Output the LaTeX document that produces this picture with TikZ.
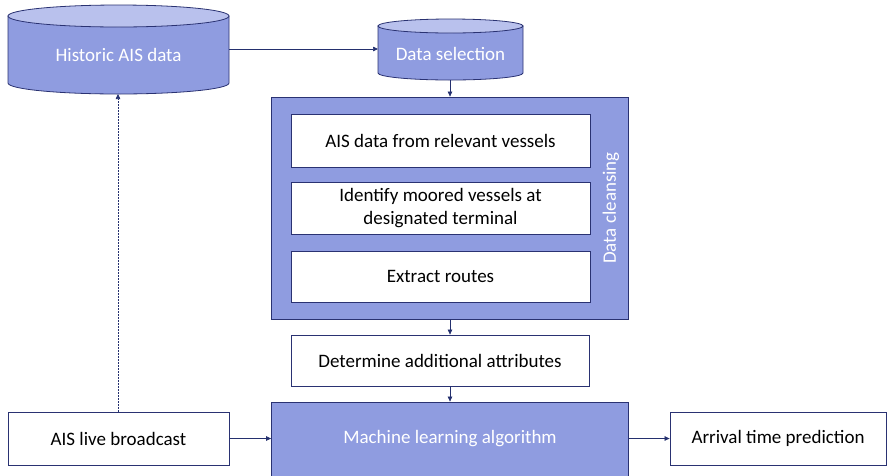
\documentclass[tikz,border=0pt]{standalone}
\usepackage{fontspec}
\setmainfont{Carlito}
\usetikzlibrary{arrows.meta}
\definecolor{bodyc}{HTML}{8F9CE0}
\definecolor{topc}{HTML}{B9C1ED}
\definecolor{edgec}{HTML}{2A3272}
\definecolor{arrc}{HTML}{24306E}
\begin{document}
\begin{tikzpicture}[x=1pt,y=-1pt,
  shape edge/.style={draw=edgec,line width=0.8pt},
  whitebox/.style={shape edge,fill=white,inner sep=0pt,text=black,font=\fontsize{19}{23}\selectfont,align=center},
  bluebox/.style={shape edge,fill=bodyc,inner sep=0pt,text=white,font=\fontsize{19}{23}\selectfont,align=center},
  lbl/.style={inner sep=0pt,font=\fontsize{19}{23}\selectfont},
  conn/.style={draw=arrc,line width=0.7pt,-{Triangle[length=5pt,width=4.5pt]}},
  dotconn/.style={conn,dash pattern=on 1.5pt off 1.5pt}]
\useasboundingbox (0,0) rectangle (888,475);
% Historic AIS data cylinder
\draw[shape edge,fill=bodyc] (8,16) -- (8,83) arc[start angle=180,end angle=360,x radius=110.5pt,y radius=11pt] -- (229,16) -- cycle;
\draw[shape edge,fill=topc] (118.5,16) ellipse[x radius=110.5pt,y radius=11pt];
\node[lbl,text=white] (hist) at (118.5,55) {Historic AIS data};
\coordinate (histR) at (229,49);
\coordinate (histB) at (118,94);
% Data selection cylinder
\draw[shape edge,fill=bodyc] (378,26) -- (378,73) arc[start angle=180,end angle=360,x radius=72.5pt,y radius=7pt] -- (523,26) -- cycle;
\draw[shape edge,fill=topc] (450.5,26) ellipse[x radius=72.5pt,y radius=7pt];
\node[lbl,text=white] (sel) at (450.5,54) {Data selection};
\coordinate (selL) at (378,49);
\coordinate (selB) at (450,80);
% Data cleansing container
\node[bluebox,minimum width=357pt,minimum height=222pt] (clean) at (450,208) {};
\node[lbl,text=white,rotate=90] (cleanlbl) at (611,208) {Data cleansing};
\node[whitebox,minimum width=299pt,minimum height=53pt] (b1) at (440.5,140.5) {AIS data from relevant vessels};
\node[whitebox,minimum width=299pt,minimum height=52pt] (b2) at (440.5,208) {Identify moored vessels at\\designated terminal};
\node[whitebox,minimum width=299pt,minimum height=51pt] (b3) at (440.5,276.5) {Extract routes};
% Determine
\node[whitebox,minimum width=298pt,minimum height=51pt] (det) at (440,360.5) {Determine additional attributes};
% Machine learning
\node[bluebox,minimum width=357pt,minimum height=74pt] (ml) at (450,439) {Machine learning algorithm};
% AIS live
\node[whitebox,minimum width=221pt,minimum height=53pt] (live) at (118.5,438.5) {AIS live broadcast};
% Arrival
\node[whitebox,minimum width=216pt,minimum height=53pt] (arr) at (778,438.5) {Arrival time prediction};
% connectors
\draw[conn] (histR) -- (selL);
\draw[conn] (selB) -- (clean.north -| selB);
\draw[conn] (clean.south -| selB) -- (det.north -| selB);
\draw[conn] (det.south -| selB) -- (ml.north -| selB);
\draw[conn] (live.east) -- (ml.west |- live.east);
\draw[conn] (ml.east |- arr.west) -- (arr.west);
\draw[dotconn] (live.north -| histB) -- (histB);
\end{tikzpicture}
\end{document}
